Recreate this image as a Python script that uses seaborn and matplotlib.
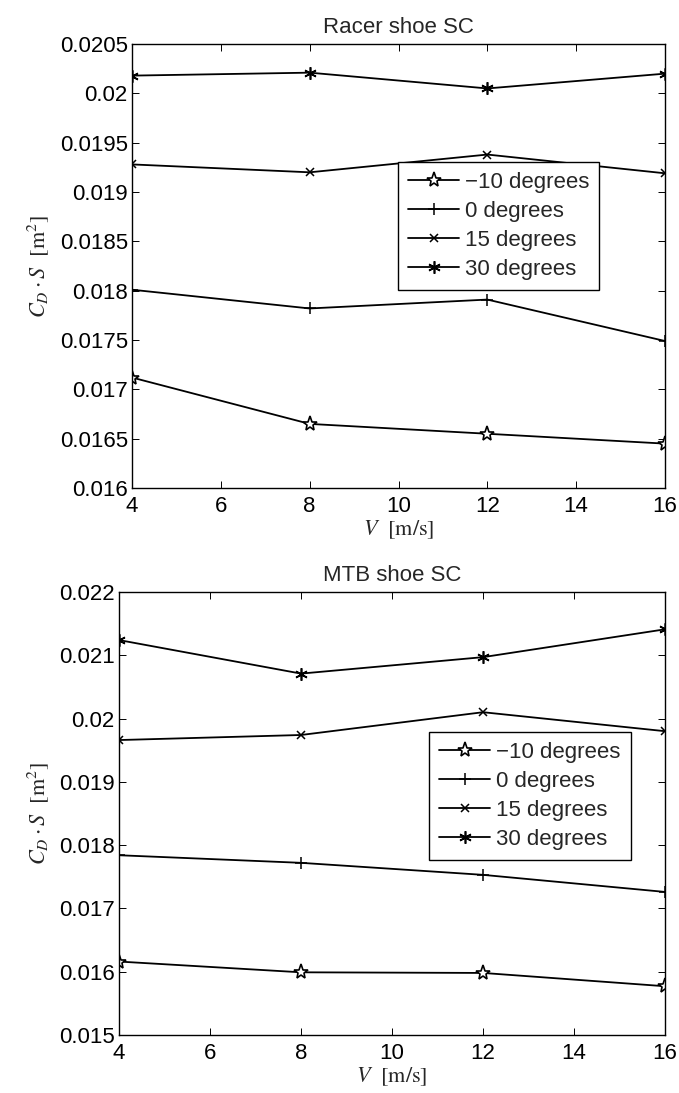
import matplotlib
matplotlib.use("Agg")
import matplotlib.pyplot as plt
import seaborn as sns

sns.set_theme(style="white")
plt.rcParams['font.family'] = ['Liberation Sans', 'DejaVu Sans']
plt.rcParams['mathtext.fontset'] = 'stix'

V = [4, 8, 12, 16]
labels = ["\u221210 degrees", "0 degrees", "15 degrees", "30 degrees"]

racer_m10 = [0.01712, 0.01665, 0.01655, 0.01645]
racer_0 = [0.01801, 0.01782, 0.01791, 0.01749]
racer_15 = [0.01928, 0.01920, 0.01938, 0.01919]
racer_30 = [0.02018, 0.02021, 0.02005, 0.02020]

mtb_m10 = [0.01616, 0.01599, 0.01598, 0.01577]
mtb_0 = [0.01784, 0.01772, 0.01753, 0.01726]
mtb_15 = [0.01966, 0.01974, 0.02010, 0.01980]
mtb_30 = [0.02124, 0.02071, 0.02097, 0.02141]

x_ticks = [4, 6, 8, 10, 12, 14, 16]
racer_yticks = [0.016, 0.0165, 0.017, 0.0175, 0.018, 0.0185, 0.019, 0.0195, 0.02, 0.0205]
racer_yticklabels = ["0.016", "0.0165", "0.017", "0.0175", "0.018", "0.0185", "0.019", "0.0195", "0.02", "0.0205"]
mtb_yticks = [0.015, 0.016, 0.017, 0.018, 0.019, 0.02, 0.021, 0.022]
mtb_yticklabels = ["0.015", "0.016", "0.017", "0.018", "0.019", "0.02", "0.021", "0.022"]

titles = ["Racer shoe SC", "MTB shoe SC"]

markers = [
    dict(marker='*', markersize=11, markerfacecolor='white', markeredgecolor='black', markeredgewidth=1.2),
    dict(marker='+', markersize=9, markerfacecolor='black', markeredgecolor='black', markeredgewidth=1.1),
    dict(marker='x', markersize=6, markerfacecolor='black', markeredgecolor='black', markeredgewidth=1.1),
    dict(marker=(6, 2, 0), markersize=9, markerfacecolor='black', markeredgecolor='black', markeredgewidth=1.2),
]

fig = plt.figure(figsize=(6.79, 10.93), dpi=100)
ax1 = fig.add_axes([0.1944, 0.5535, 0.785, 0.4062])
ax2 = fig.add_axes([0.1753, 0.0531, 0.8041, 0.4053])

FS = 16

def draw(ax, series, yticks, yticklabels, ylim, title, leg_anchor):
    for vals, lab, mk in zip(series, labels, markers):
        sns.lineplot(x=V, y=vals, ax=ax, color='black', linewidth=1.3, label=lab, **mk)
    ax.set_xlim(4, 16)
    ax.set_ylim(*ylim)
    ax.set_xticks(x_ticks)
    ax.set_xticklabels([str(t) for t in x_ticks])
    ax.set_yticks(yticks)
    ax.set_yticklabels(yticklabels)
    ax.tick_params(direction='in', length=5, width=0.7, top=True, right=True,
                   bottom=True, left=True, labelsize=FS, colors='black')
    ax.tick_params(axis='x', pad=6)
    ax.tick_params(axis='y', pad=3)
    for s in ax.spines.values():
        s.set_color('black')
        s.set_linewidth(1.0)
    ax.set_title(title, fontsize=FS, pad=8)
    ax.set_xlabel(r"$V\ \ [\mathrm{m/s}]$", fontsize=FS, labelpad=1)
    ax.set_ylabel(r"$C_D \cdot S\ \ [\mathrm{m}^2]$", fontsize=FS, labelpad=6)
    leg = ax.legend(loc='upper left', bbox_to_anchor=leg_anchor, fontsize=FS,
                    frameon=True, fancybox=False, edgecolor='black', framealpha=1,
                    borderaxespad=0, handlelength=2.3, handletextpad=0.27,
                    labelspacing=0.36, borderpad=0.45)
    leg.get_frame().set_linewidth(1.0)

draw(ax1, [racer_m10, racer_0, racer_15, racer_30], racer_yticks, racer_yticklabels,
     (0.016, 0.0205), titles[0], (0.499, 0.735))
draw(ax2, [mtb_m10, mtb_0, mtb_15, mtb_30], mtb_yticks, mtb_yticklabels,
     (0.015, 0.022), titles[1], (0.568, 0.684))

fig.savefig("out.png", dpi=100)
